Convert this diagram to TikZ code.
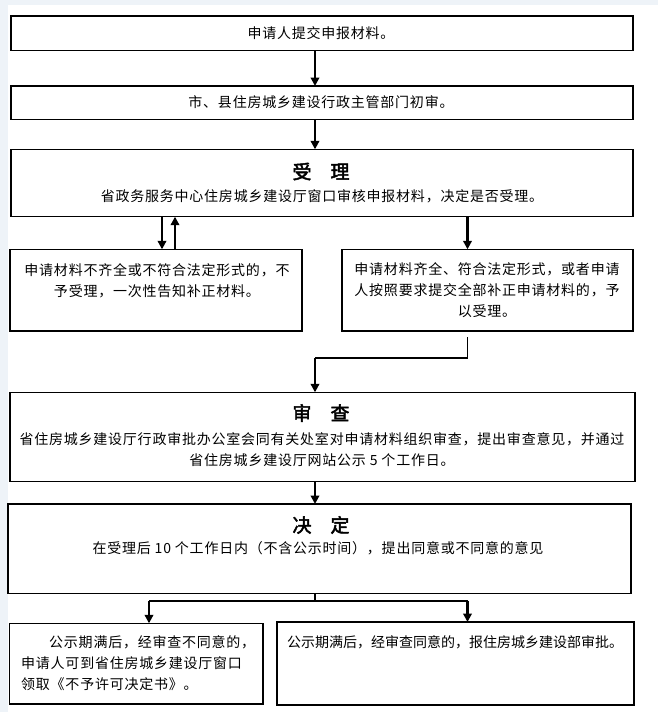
\documentclass[tikz,border=0pt]{standalone}
\usepackage{fontspec}
\setmainfont{Noto Sans CJK SC}[AutoFakeBold=2.5]
\newfontfamily\spaced{Noto Sans CJK SC}[LetterSpace=5.5,AutoFakeBold=2.5]
\usetikzlibrary{arrows.meta}
\tikzset{
  box/.style={draw=black,line width=1.2pt,rectangle,anchor=north west,inner sep=0pt,outer sep=0pt},
  thinline/.style={line width=1.2pt},
  arr/.style={line width=2.4pt,-{Triangle[width=8.5pt,length=8.5pt]}},
  txt/.style={inner sep=0pt,font=\spaced\fontsize{14pt}{21pt}\selectfont,align=center},
  plaintxt/.style={inner sep=0pt,font=\fontsize{14pt}{21pt}\selectfont},
  ttl/.style={inner sep=0pt,font=\fontsize{19pt}{22pt}\selectfont\bfseries},
}
\definecolor{bgstrip}{HTML}{EEF3F8}
\begin{document}
\begin{tikzpicture}[x=1pt,y=-1pt]
\useasboundingbox (0,0) rectangle (658,712);
\fill[white] (0,0) rectangle (658,712);
\fill[bgstrip] (0,0) rectangle (8,712);
\fill[bgstrip] (0,0) rectangle (658,5);
% boxes
\node[box,minimum width=622pt,minimum height=34.5pt] (b1) at (11,16) {};
\node[box,minimum width=622pt,minimum height=33.3pt] (b2) at (11,86) {};
\node[box,minimum width=622pt,minimum height=67.4pt] (b3) at (11,149.3) {};
\node[box,minimum width=292pt,minimum height=81.7pt] (b4) at (10,249.3) {};
\node[box,minimum width=291pt,minimum height=81.7pt] (b5) at (342,249.3) {};
\node[box,minimum width=625pt,minimum height=89.4pt] (b6) at (10,392.3) {};
\node[box,minimum width=623pt,minimum height=89.3pt] (b7) at (8,504) {};
\node[box,minimum width=253.4pt,minimum height=80.7pt] (b8) at (9.6,623.3) {};
\node[box,minimum width=357pt,minimum height=83pt] (b9) at (277,622) {};
% texts
\node[txt] (t1) at (321,33.5) {申请人提交申报材料。};
\node[txt] (t2) at (321,102.5) {市、县住房城乡建设行政主管部门初审。};
\node[ttl] (h3) at (321,171.5) {受\hspace{1em}理};
\node[txt] (t3) at (322,196.5) {省政务服务中心住房城乡建设厅窗口审核申报材料，决定是否受理。};
\node[txt] (t4) at (157,280.5) {申请材料不齐全或不符合法定形式的，不\\予受理，一次性告知补正材料。};
\node[txt] (t5) at (487,290.5) {申请材料齐全、符合法定形式，或者申请\\人按照要求提交全部补正申请材料的，予\\以受理。};
\node[ttl] (h6) at (321,413) {审\hspace{1em}查};
\node[txt] (t6) at (322,449.5) {省住房城乡建设厅行政审批办公室会同有关处室对申请材料组织审查，提出审查意见，并通过\\省住房城乡建设厅网站公示 5 个工作日。};
\node[ttl] (h7) at (321,525) {决\hspace{1em}定};
\node[txt] (t7) at (318,548.5) {在受理后 10 个工作日内（不含公示时间），提出同意或不同意的意见};
\node[txt,align=left,anchor=west] (t8) at (21,663.5) {\hspace*{2em}公示期满后，经审查不同意的，\\申请人可到省住房城乡建设厅窗口\\领取《不予许可决定书》。};
\node[plaintxt,anchor=west] (t9) at (287,642) {公示期满后，经审查同意的，报住房城乡建设部审批。};
% helper coordinates
\coordinate (cx) at (315,0);
\coordinate (xl) at (162,0);
\coordinate (xu) at (175,0);
\coordinate (xr) at (467.5,0);
\coordinate (c5) at (467.5,337);
\coordinate (j1) at (315,358);
\coordinate (j2) at (315,601);
\coordinate (jl) at (149,601);
\coordinate (jr) at (467.5,601);
% connectors
\draw[arr] (b1.south -| cx) -- (b2.north -| cx);
\draw[arr] (b2.south -| cx) -- (b3.north -| cx);
\draw[arr] (b3.south -| xl) -- (b4.north -| xl);
\draw[arr] (b4.north -| xu) -- (b3.south -| xu);
\draw[arr] (b3.south -| xr) -- (b5.north -| xr);
\draw[thinline] (c5) |- (j1);
\draw[arr] (j1) -- (b6.north -| j1);
\draw[arr] (b6.south -| cx) -- (b7.north -| cx);
\draw[thinline] (b7.south -| j2) -- (j2);
\draw[thinline] (jl) -- (jr);
\draw[arr] (jl) -- (b8.north -| jl);
\draw[arr] (jr) -- (b9.north -| jr);
\end{tikzpicture}
\end{document}
